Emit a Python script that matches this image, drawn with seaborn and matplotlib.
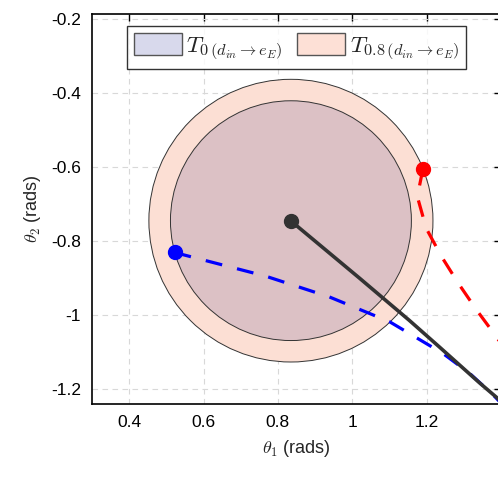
import numpy as np
import pandas as pd
import matplotlib
matplotlib.use("Agg")
import matplotlib.pyplot as plt
from matplotlib.patches import Circle, Patch
import seaborn as sns

# ---- data ----
center = (0.835, -0.745)
r_inner = 0.324   # T_0 region
r_outer = 0.382   # T_0.8 region

black_x = [0.834, 1.019, 1.154, 1.235, 1.343, 1.392, 1.45]
black_y = [-0.745, -0.900, -1.015, -1.087, -1.184, -1.226, -1.283]

blue_x = [0.522, 0.767, 0.938, 1.100, 1.244, 1.316, 1.379, 1.43]
blue_y = [-0.831, -0.895, -0.951, -1.018, -1.104, -1.158, -1.216, -1.27]

red_x = [1.190, 1.175, 1.199, 1.240, 1.285, 1.334, 1.384, 1.43]
red_y = [-0.605, -0.680, -0.766, -0.842, -0.914, -0.986, -1.054, -1.12]

xticks = [0.4, 0.6, 0.8, 1.0, 1.2]
xtick_labels = ["0.4", "0.6", "0.8", "1", "1.2"]
yticks = [-1.2, -1.0, -0.8, -0.6, -0.4, -0.2]
ytick_labels = ["-1.2", "-1", "-0.8", "-0.6", "-0.4", "-0.2"]
legend_labels = [r"$T_{0\,(d_{in}\rightarrow e_E)}$", r"$T_{0.8\,(d_{in}\rightarrow e_E)}$"]

sns.set_style("white")
plt.rcParams["font.family"] = ["Liberation Sans", "DejaVu Sans"]
plt.rcParams["mathtext.fontset"] = "cm"

fig = plt.figure(figsize=(4.98, 4.79), dpi=100)
ax = fig.add_axes([92 / 498, 1 - 404 / 479, (501 - 92) / 498, 390 / 479])

outer_col = "#fcdfd4"
inner_col = "#dcc1c5"
lav_col = "#d8d9ec"
edge = "#333333"

ax.add_patch(Circle(center, r_outer, facecolor=outer_col, edgecolor=edge, lw=0.7, zorder=2))
ax.add_patch(Circle(center, r_inner, facecolor=inner_col, edgecolor=edge, lw=0.7, zorder=3))

df_b = pd.DataFrame({"x": blue_x, "y": blue_y})
df_r = pd.DataFrame({"x": red_x, "y": red_y})
df_k = pd.DataFrame({"x": black_x, "y": black_y})

lw = 2.3
for df, col in [(df_b, "#0000ff"), (df_r, "#ff0000")]:
    sns.lineplot(data=df, x="x", y="y", sort=False, estimator=None, color=col,
                 lw=lw, ax=ax, zorder=5, dashes=False)
    ax.lines[-1].set_dashes((5.3, 4.8))
    ax.plot(df["x"].iloc[0], df["y"].iloc[0], "o", color=col, ms=10, zorder=6)

sns.lineplot(data=df_k, x="x", y="y", sort=False, estimator=None, color="#333333",
             lw=2.6, ax=ax, zorder=5)
ax.plot(df_k["x"].iloc[0], df_k["y"].iloc[0], "o", color="#333333", ms=10, zorder=6)

ax.set_xlim(0.3, 1.4)
ax.set_ylim(-1.2405, -0.1865)
ax.set_xticks(xticks)
ax.set_xticklabels(xtick_labels)
ax.set_yticks(yticks)
ax.set_yticklabels(ytick_labels)
ax.tick_params(direction="in", length=5, width=1, top=True, right=True,
               labelsize=12.5, colors="black", pad=8)
ax.grid(True, ls=(0, (5, 4)), color="#d8d8d8", lw=0.8, zorder=1)
ax.set_axisbelow(True)
for s in ax.spines.values():
    s.set_color("black")
    s.set_linewidth(1.2)

ax.set_xlabel(r"$\theta_1$ (rads)", fontsize=13, labelpad=6)
ax.set_ylabel(r"$\theta_2$ (rads)", fontsize=13, labelpad=6)

handles = [Patch(facecolor=lav_col, edgecolor="#555555", lw=1),
           Patch(facecolor="#fde0d6", edgecolor="#555555", lw=1)]
leg = ax.legend(handles, legend_labels, ncol=2, loc="upper center",
                bbox_to_anchor=(0.5, 0.969), fontsize=16.8, frameon=True,
                fancybox=False, edgecolor="black", handlelength=2.05,
                handleheight=1.05, handletextpad=0.2, columnspacing=0.6,
                borderpad=0.3, borderaxespad=0.0)
leg.get_frame().set_linewidth(1.0)

fig.savefig("out.png", dpi=100)
